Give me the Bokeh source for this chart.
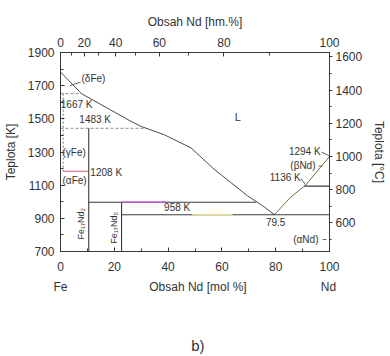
from bokeh.plotting import figure
from bokeh.models import LinearAxis, Range1d, FixedTicker
from bokeh.core.properties import value
from bokeh.embed import file_html
from bokeh.resources import INLINE
import math

# ---------------- data (mol % Nd, temperature in K) ----------------
liq_fe_mol = [0, 7.8, 26.3, 30.0, 38.6, 48.5, 57.1, 63.3, 69.5, 75.1, 79.5]
liq_fe_K = [1782, 1652, 1484, 1454, 1404, 1325, 1196, 1116, 1036, 976, 922]
liq_nd_mol = [79.5, 85.6, 91.1, 100]
liq_nd_K = [922, 1028, 1100, 1273]

# solid isotherms
iso_start = [10.5, 22.7, 90.6]
iso_end = [72.8, 100, 100]
iso_K = [997, 922, 1094]
# dashed isotherms (1667 K, 1483 K)
dash_start = [0, 0]
dash_end = [7.8, 31.5]
dash_K = [1652, 1443]
# gamma/alpha iron (1208 K)
ga_start = [1.0]
ga_end = [10.5]
ga_K = [1184]
# gamma loop boundary
loop_mol = [1.0, 1.0]
loop_K = [1652, 1184]
# compounds
comp_mol = [10.5, 22.7]
comp_top = [1443, 997]
comp_names = ["Fe\u2081\u2087Nd\u2082", "Fe\u2081\u2087Nd\u2085"]
comp_lab_mol = [7.8, 20.0]
comp_lab_K = [867, 843]

# scan colour artefacts on the isotherms
mag_mol = [22.7, 39.3]
mag_K = [997, 997]
yel_mol = [49.0, 64.0]
yel_K = [922, 922]

# leader marks
lead_x0 = [3.5, 97.0, 95.9, 89.4, 97.4]
lead_x1 = [7.5, 99.8, 97.4, 91.0, 98.9]
lead_K0 = [1700, 1300, 1215, 1140, 772]
lead_K1 = [1722, 1278, 1215, 1104, 772]

# labels inside the diagram
left_texts = ["(\u03b4Fe)", "1667 K", "1483 K", "(\u03b3Fe)", "(\u03b1Fe)", "1208 K", "958 K"]
left_mol = [7.8, 0.1, 7.0, 0.75, 0.75, 11.1, 38.5]
left_K = [1745, 1584, 1494, 1299, 1126, 1179, 963]
right_texts = ["1294 K", "(\u03b2Nd)", "1136 K", "(\u03b1Nd)"]
right_mol = [96.7, 94.8, 89.3, 95.9]
right_K = [1303, 1219, 1148, 772]
center_texts = ["79.5"]
center_mol = [80.0]
center_K = [880]

# axes
K_ticks = [700, 900, 1100, 1300, 1500, 1700, 1900]
K_minor = [800, 1000, 1200, 1400, 1600, 1800]
C_ticks = [600, 800, 1000, 1200, 1400, 1600]
C_minor = [500, 700, 900, 1100, 1300, 1500]
mol_ticks = [0, 20, 40, 60, 80, 100]
mol_minor = [10, 30, 50, 70, 90]
wt_ticks = [0, 20, 40, 60, 80, 100]
wt_minor = [10, 30, 50, 70, 90]
M_FE, M_ND = 55.845, 144.242

caption_pos = [0, 51.1, 99.6]
caption_texts = ["Fe", "Obsah Nd [mol %]", "Nd"]
panel_pos = [51.1]
panel_texts = ["b)"]


def wt_to_mol(w):
    a = w / M_ND
    b = (100 - w) / M_FE
    return round(100 * a / (a + b), 6)


FONT = "Liberation Sans"
TXT = "#333333"
LINE = "#3a3a3a"

p = figure(width=390, height=356, x_range=Range1d(0, 100), y_range=Range1d(700, 1900),
           output_backend="svg", toolbar_location=None,
           min_border_left=59, min_border_right=61, min_border_top=52, min_border_bottom=103,
           background_fill_color="white", border_fill_color="white")
p.xgrid.visible = False
p.ygrid.visible = False
p.outline_line_color = LINE
p.outline_line_width = 1


def style_axis(ax):
    ax.axis_line_color = LINE
    ax.major_tick_line_color = LINE
    ax.minor_tick_line_color = LINE
    ax.major_tick_in = 4
    ax.major_tick_out = 0
    ax.minor_tick_in = 3
    ax.minor_tick_out = 0
    ax.major_label_text_font = FONT
    ax.major_label_text_font_size = "12px"
    ax.major_label_text_color = TXT
    ax.axis_label_text_font = FONT
    ax.axis_label_text_font_size = "12px"
    ax.axis_label_text_font_style = "normal"
    ax.axis_label_text_color = TXT


# left (K)
p.yaxis.ticker = FixedTicker(ticks=K_ticks, minor_ticks=K_minor)
p.yaxis.axis_label = "Teplota [K]"
style_axis(p.yaxis[0])
p.yaxis.major_label_standoff = 6
p.yaxis.axis_label_standoff = 7

# bottom (mol %)
p.xaxis.ticker = FixedTicker(ticks=mol_ticks, minor_ticks=mol_minor)
style_axis(p.xaxis[0])
p.xaxis.major_label_standoff = 10

# caption row (Fe / title / Nd) as a tick-less axis
cax = LinearAxis(ticker=FixedTicker(ticks=caption_pos, minor_ticks=[]),
                 major_label_overrides={k: t for k, t in zip(caption_pos, caption_texts)})
style_axis(cax)
cax.axis_line_color = None
cax.major_tick_line_color = None
cax.minor_tick_line_color = None
cax.major_label_standoff = 6
p.add_layout(cax, "below")

# panel letter
bax = LinearAxis(ticker=FixedTicker(ticks=panel_pos, minor_ticks=[]),
                 major_label_overrides={k: t for k, t in zip(panel_pos, panel_texts)})
style_axis(bax)
bax.axis_line_color = None
bax.major_tick_line_color = None
bax.minor_tick_line_color = None
bax.major_label_text_font_size = "15px"
bax.major_label_standoff = 40
p.add_layout(bax, "below")

# right (deg C)
p.extra_y_ranges = {"C": Range1d(700 - 273.15, 1900 - 273.15)}
rax = LinearAxis(y_range_name="C", ticker=FixedTicker(ticks=C_ticks, minor_ticks=C_minor),
                 axis_label="Teplota [\u00b0C]")
style_axis(rax)
rax.major_tick_in = 0
rax.major_tick_out = 3
rax.minor_tick_in = 0
rax.minor_tick_out = 2
rax.major_label_standoff = 3
rax.axis_label_standoff = 7
p.add_layout(rax, "right")

# top (wt %)
top_pos = [wt_to_mol(w) for w in wt_ticks]
top_minor = [wt_to_mol(w) for w in wt_minor]
tax = LinearAxis(ticker=FixedTicker(ticks=top_pos, minor_ticks=top_minor),
                 axis_label="Obsah Nd [hm.%]",
                 major_label_overrides={pos: str(w) for pos, w in zip(top_pos, wt_ticks)})
style_axis(tax)
tax.major_label_standoff = 6
tax.axis_label_standoff = 6
p.add_layout(tax, "above")

# ---------------- lines ----------------
p.line(liq_fe_mol, liq_fe_K, line_color="#4a4a4a", line_width=1)
p.line(liq_nd_mol, liq_nd_K, line_color="#7a6a40", line_width=1)
p.segment(x0=iso_start, x1=iso_end, y0=iso_K, y1=iso_K, line_color=LINE, line_width=1.1)
p.segment(x0=dash_start, x1=dash_end, y0=dash_K, y1=dash_K, line_color="#8a8a8a",
          line_width=1, line_dash="3 2")
p.segment(x0=ga_start, x1=ga_end, y0=ga_K, y1=ga_K, line_color="#c8607a", line_width=1.1)
p.line(loop_mol, loop_K, line_color="#777777", line_width=1, line_dash="2 2")
p.segment(x0=comp_mol, x1=comp_mol, y0=[700, 700], y1=comp_top, line_color=LINE, line_width=1.1)
p.line(mag_mol, mag_K, line_color="#c050c8", line_width=1.3)
p.line(yel_mol, yel_K, line_color="#e0e080", line_width=1.3)
p.segment(x0=lead_x0, x1=lead_x1, y0=lead_K0, y1=lead_K1, line_color="#555555", line_width=0.9)

# ---------------- texts ----------------
p.text(left_mol, left_K, text=left_texts, text_font=value(FONT), text_font_size="10px",
       text_color=TXT, text_align="left", text_baseline="middle")
p.text(right_mol, right_K, text=right_texts, text_font=value(FONT), text_font_size="10px",
       text_color=TXT, text_align="right", text_baseline="middle")
p.text(center_mol, center_K, text=center_texts, text_font=value(FONT), text_font_size="10px",
       text_color=TXT, text_align="center", text_baseline="middle")
p.text(comp_lab_mol, comp_lab_K, text=comp_names, angle=math.pi / 2, text_font=value(FONT),
       text_font_size="9px", text_color=TXT, text_align="center", text_baseline="middle")
p.text([65.9], [1512], text=["L"], text_font=value(FONT), text_font_size="11px",
       text_color=TXT, text_align="center", text_baseline="middle")

open("out.html", "w").write(file_html(p, INLINE))
